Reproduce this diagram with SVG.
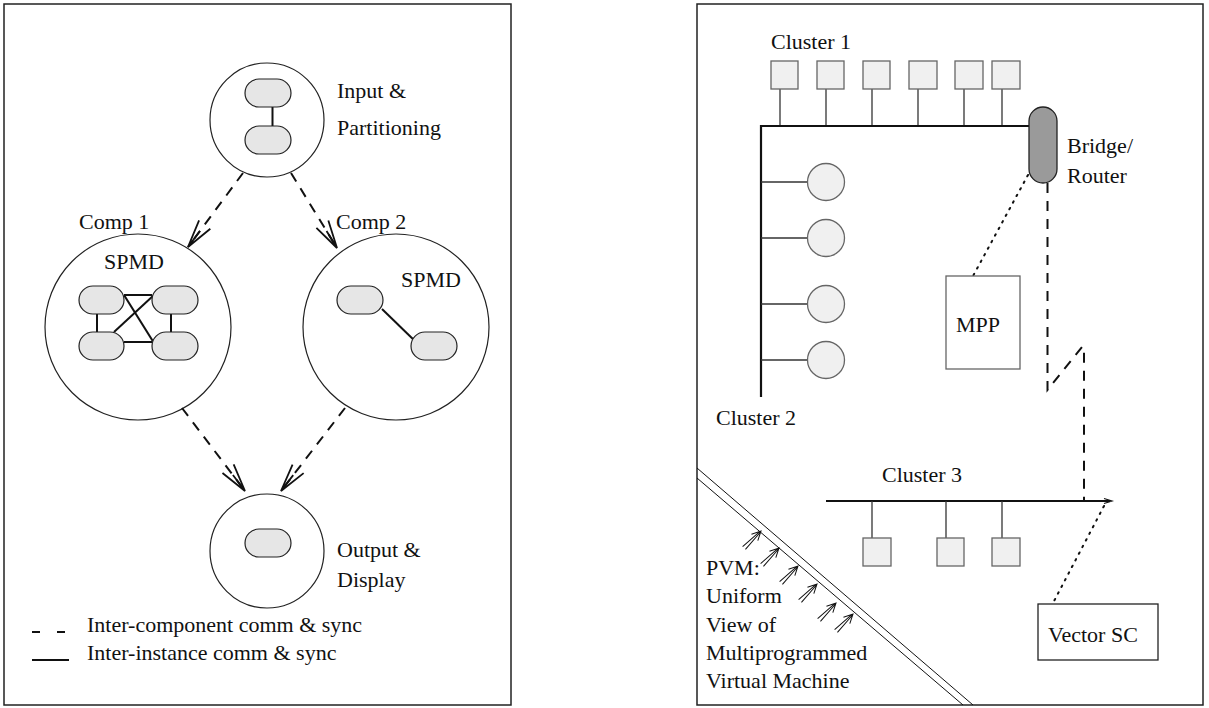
<svg xmlns="http://www.w3.org/2000/svg" width="1209" height="708" viewBox="0 0 1209 708">
<style>
text{font-family:"Liberation Serif","Times New Roman",serif;font-size:22px;fill:#111}
.panel{fill:#fff;stroke:#222;stroke-width:1.5}
.circ{fill:#fff;stroke:#222;stroke-width:1.2}
.proc{fill:#e6e6e6;stroke:#222;stroke-width:1.2}
.link{stroke:#111;stroke-width:2;fill:none}
.dash{stroke:#111;stroke-width:2;fill:none;stroke-dasharray:10 8}
.dot{stroke:#111;stroke-width:2;fill:none;stroke-dasharray:1.5 6;stroke-linecap:round}
.box{fill:#f0f0f0;stroke:#666;stroke-width:1.3}
.stem{stroke:#333;stroke-width:1.3}
.bus{stroke:#111;stroke-width:2.2;fill:none}
.thin{stroke:#111;stroke-width:1;fill:none}
</style>
<defs>
<marker id="openArrow" markerUnits="userSpaceOnUse" markerWidth="40" markerHeight="20" viewBox="-30 -10 32 20" refX="0" refY="0" orient="auto" overflow="visible">
<path d="M-28,-7 L0,0 L-28,7 M-20,0 L0,0" fill="none" stroke="#111" stroke-width="1.8" stroke-dasharray="none"/>
</marker>
<g id="dblArrow">
<path d="M-24,-2 L-1,-0.4 M-24,2 L-1,0.4 M-9,-4.5 L0,0 L-9,4.5" fill="none" stroke="#111" stroke-width="1"/>
</g>
</defs>

<rect class="panel" x="4" y="4" width="507" height="701"/>
<rect class="panel" x="697" y="4" width="506" height="701"/>

<!-- Left panel nodes -->
<g id="input">
<circle class="circ" cx="267" cy="120" r="57"/>
<line class="link" x1="272.5" y1="107" x2="272.5" y2="126"/>
<rect class="proc" x="245" y="79" width="46" height="28" rx="14"/>
<rect class="proc" x="245" y="126" width="46" height="28" rx="14"/>
<text x="337" y="98">Input &amp;</text>
<text x="337" y="135">Partitioning</text>
</g>

<g id="comp1">
<circle class="circ" cx="138" cy="327" r="93"/>
<text x="79" y="229">Comp 1</text>
<text x="104" y="269">SPMD</text>
<line class="link" x1="124" y1="295" x2="152" y2="295"/>
<line class="link" x1="124" y1="342" x2="152" y2="342"/>
<line class="link" x1="97" y1="313" x2="97" y2="332"/>
<line class="link" x1="171" y1="313" x2="171" y2="332"/>
<line class="link" x1="124" y1="295" x2="154" y2="343"/>
<line class="link" x1="114" y1="332" x2="154" y2="295"/>
<rect class="proc" x="79" y="286" width="45" height="28" rx="14"/>
<rect class="proc" x="152" y="286" width="46" height="28" rx="14"/>
<rect class="proc" x="79" y="332" width="45" height="28" rx="14"/>
<rect class="proc" x="152" y="332" width="46" height="28" rx="14"/>
</g>

<g id="comp2">
<circle class="circ" cx="396" cy="327" r="93"/>
<text x="336" y="229">Comp 2</text>
<text x="401" y="287">SPMD</text>
<line class="link" x1="382" y1="309" x2="417" y2="343"/>
<rect class="proc" x="337" y="286" width="46" height="28" rx="14"/>
<rect class="proc" x="411" y="332" width="46" height="28" rx="14"/>
</g>

<g id="output">
<circle class="circ" cx="267" cy="551" r="57"/>
<rect class="proc" x="245" y="529" width="46" height="28" rx="14"/>
<text x="337" y="557">Output &amp;</text>
<text x="337" y="587">Display</text>
</g>

<g id="legend">
<line class="link" x1="32" y1="632" x2="40" y2="632"/>
<line class="link" x1="57" y1="632" x2="65" y2="632"/>
<line class="link" x1="32" y1="660" x2="69" y2="660"/>
<text x="87" y="632">Inter-component comm &amp; sync</text>
<text x="87" y="660">Inter-instance comm &amp; sync</text>
</g>

<g id="connectors">
<path class="dash" d="M243,173 L188,247" marker-end="url(#openArrow)"/>
<path class="dash" d="M291,173 L337,248" marker-end="url(#openArrow)"/>
<path class="dash" d="M182,408 L245,491" marker-end="url(#openArrow)"/>
<path class="dash" d="M345,408 L281,491" marker-end="url(#openArrow)"/>
<!-- right panel links -->
<path class="dot" d="M1028,175 L973,276"/>
<path class="dash" d="M1047.5,183 L1047.5,390 L1082,347 L1084,347 L1084,501"/>
<path class="dot" d="M1104,506 L1053,603"/>
</g>

<!-- Right panel -->
<g id="cluster1">
<text x="771" y="49">Cluster 1</text>
<line class="stem" x1="780" y1="88" x2="780" y2="126"/>
<line class="stem" x1="826" y1="88" x2="826" y2="126"/>
<line class="stem" x1="872" y1="88" x2="872" y2="126"/>
<line class="stem" x1="918" y1="88" x2="918" y2="126"/>
<line class="stem" x1="964" y1="88" x2="964" y2="126"/>
<line class="stem" x1="1002" y1="88" x2="1002" y2="126"/>
<rect class="box" x="771" y="61" width="27" height="28"/>
<rect class="box" x="817" y="61" width="27" height="28"/>
<rect class="box" x="863" y="61" width="27" height="28"/>
<rect class="box" x="909" y="61" width="28" height="28"/>
<rect class="box" x="955" y="61" width="28" height="28"/>
<rect class="box" x="992" y="61" width="28" height="28"/>
<path class="bus" d="M1030,126 L761,126 L761,397"/>
</g>

<g id="bridge">
<rect x="1029" y="107" width="28" height="76" rx="14" fill="#9a9a9a" stroke="#222" stroke-width="1.3"/>
<text x="1067" y="153">Bridge/</text>
<text x="1067" y="183">Router</text>
</g>

<g id="cluster2">
<line class="stem" x1="761" y1="182" x2="807" y2="182"/>
<line class="stem" x1="761" y1="238" x2="807" y2="238"/>
<line class="stem" x1="761" y1="304" x2="807" y2="304"/>
<line class="stem" x1="761" y1="360" x2="807" y2="360"/>
<circle class="box" cx="826" cy="182" r="18.5"/>
<circle class="box" cx="826" cy="238" r="18.5"/>
<circle class="box" cx="826" cy="304" r="18.5"/>
<circle class="box" cx="826" cy="360" r="18.5"/>
<text x="716" y="425">Cluster 2</text>
</g>

<g id="mpp">
<rect x="946" y="276" width="74" height="93" fill="#fff" stroke="#666" stroke-width="1.3"/>
<text x="956" y="332">MPP</text>
</g>

<g id="cluster3">
<text x="882" y="482">Cluster 3</text>
<line class="bus" x1="826" y1="501" x2="1110" y2="501"/>
<path d="M1104,498.5 L1112,501 L1104,503.5" fill="none" stroke="#111" stroke-width="1.2"/>
<line class="stem" x1="872" y1="501" x2="872" y2="538"/>
<line class="stem" x1="946" y1="501" x2="946" y2="538"/>
<line class="stem" x1="1002" y1="501" x2="1002" y2="538"/>
<rect class="box" x="863" y="538" width="28" height="28"/>
<rect class="box" x="937" y="538" width="27" height="28"/>
<rect class="box" x="992" y="538" width="28" height="28"/>
</g>

<g id="vectorsc">
<rect x="1038" y="604" width="120" height="56" fill="#fff" stroke="#222" stroke-width="1.3"/>
<text x="1048" y="642">Vector SC</text>
</g>

<g id="pvm">
<line class="thin" x1="697" y1="468" x2="973" y2="705"/>
<line class="thin" x1="697" y1="478" x2="963" y2="705"/>
<use href="#dblArrow" transform="translate(761,531) rotate(-45)"/>
<use href="#dblArrow" transform="translate(779,548) rotate(-45)"/>
<use href="#dblArrow" transform="translate(798,566) rotate(-45)"/>
<use href="#dblArrow" transform="translate(817,584) rotate(-45)"/>
<use href="#dblArrow" transform="translate(836,603) rotate(-45)"/>
<use href="#dblArrow" transform="translate(853,614) rotate(-45)"/>
<text x="706" y="575">PVM:</text>
<text x="706" y="603">Uniform</text>
<text x="706" y="632">View of</text>
<text x="706" y="660">Multiprogrammed</text>
<text x="706" y="688">Virtual Machine</text>
</g>
</svg>
